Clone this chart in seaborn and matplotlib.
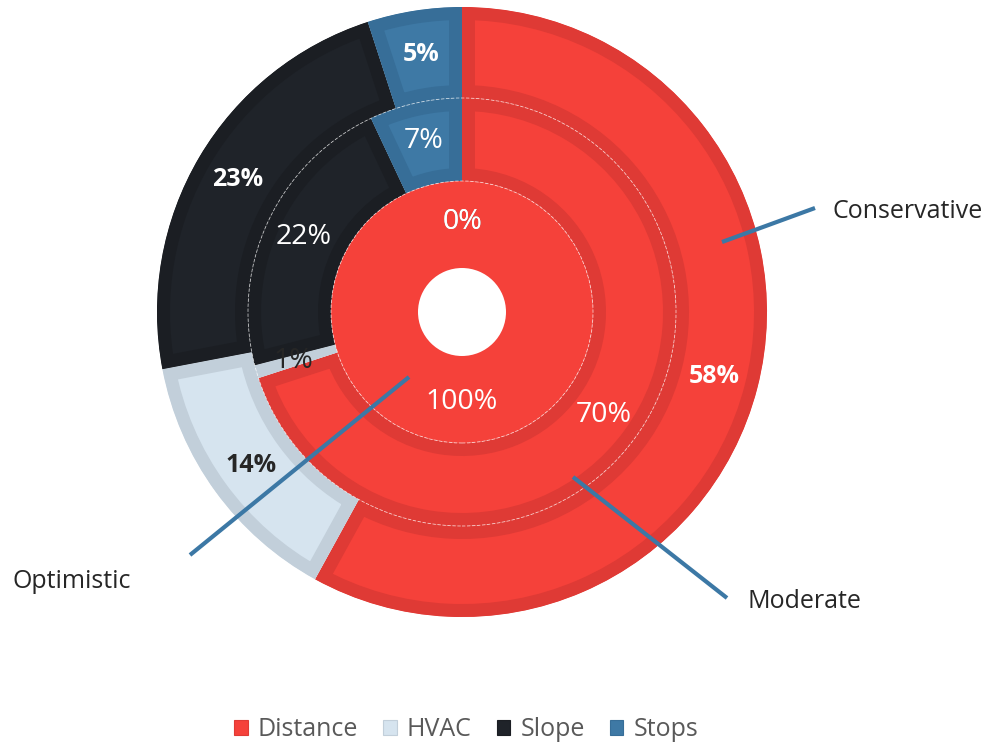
import numpy as np
import pandas as pd
import matplotlib
matplotlib.use('Agg')
import matplotlib.pyplot as plt
import seaborn as sns
from matplotlib.patches import Patch, Circle

# data
categories = ['Distance', 'HVAC', 'Slope', 'Stops']
conservative = [58, 14, 23, 5]
moderate = [70, 1, 22, 7]
optimistic = [100, 0, 0, 0]
scenarios = ['Conservative', 'Moderate', 'Optimistic']

fill_colors = ['#F5413A', '#D6E4EF', '#1F2329', '#3E79A5']
edge_colors = ['#DF3A35', '#C2CFDA', '#1B1E23', '#376E98']
label_colors = ['white', '#262626', 'white', 'white']

sns.set_theme(style='white')
plt.rcParams['font.family'] = ['Open Sans', 'DejaVu Sans']

W, H = 987, 746
fig = plt.figure(figsize=(W / 100, H / 100), dpi=100)
ax = fig.add_axes([0, 0, 1, 1])

cx, cy = 462, H - 312
pal = sns.color_palette(fill_colors)

# (values, outer radius, ring width, label distance, font size, weight, border px)
rings = [
    (conservative, 305, 91, 0.855, 18, 'bold', 13),
    (moderate, 214, 83, 0.82, 20.5, 'normal', 13),
    (optimistic, 131, 87, 0.69, 20.5, 'normal', 0),
]

for vals, r, w, pd_, fs, fw, border in rings:
    wedges, texts, autotexts = ax.pie(
        vals, colors=pal, radius=r, center=(cx, cy), startangle=90,
        counterclock=False, autopct='%1.0f%%', pctdistance=pd_,
        wedgeprops=dict(width=w, linewidth=0), frame=True)
    for i, wdg in enumerate(wedges):
        if border > 0 and vals[i] > 0:
            wdg.set_edgecolor(edge_colors[i])
            wdg.set_linewidth(border * 2 * 72 / 100)
            # pie turns clipping off; clip stroke to the wedge -> inner border
            wdg.set_clip_on(True)
            wdg.set_clip_path(wdg.get_path(), ax.transData)
    for i, t in enumerate(autotexts):
        t.set_color(label_colors[i])
        t.set_fontsize(fs)
        t.set_fontweight(fw)

ax.set_xlim(0, W)
ax.set_ylim(0, H)
ax.axis('off')

# thin dashed white rims
for rr in [131, 214]:
    ax.add_patch(Circle((cx, cy), rr, fill=False, edgecolor='white',
                        linewidth=0.6, linestyle=(0, (4, 2)), alpha=0.7))

# leader lines to scenario names
line_col = '#3C78A5'
leaders = [
    ((722, 242), (815, 208), (833, 212)),
    ((573, 477), (727, 598), (748, 602)),
    ((409, 377), (190, 555), (12, 582)),
]
for name, (p0, p1, tp) in zip(scenarios, leaders):
    ax.plot([p0[0], p1[0]], [H - p0[1], H - p1[1]], color=line_col,
            linewidth=3, solid_capstyle='butt')
    ax.text(tp[0], H - tp[1], name, fontsize=18, color='#262626',
            ha='left', va='center')

handles = [Patch(facecolor=fill_colors[i], edgecolor=edge_colors[i],
                 linewidth=0.8, label=categories[i]) for i in range(4)]
fig.legend(handles=handles, loc='center', bbox_to_anchor=(466 / W, 1 - 730 / H),
           ncol=4, frameon=False, fontsize=18, handlelength=0.55,
           handleheight=0.55, handletextpad=0.4, columnspacing=1.0,
           labelcolor='#595959')

fig.savefig('out.png', dpi=100)
